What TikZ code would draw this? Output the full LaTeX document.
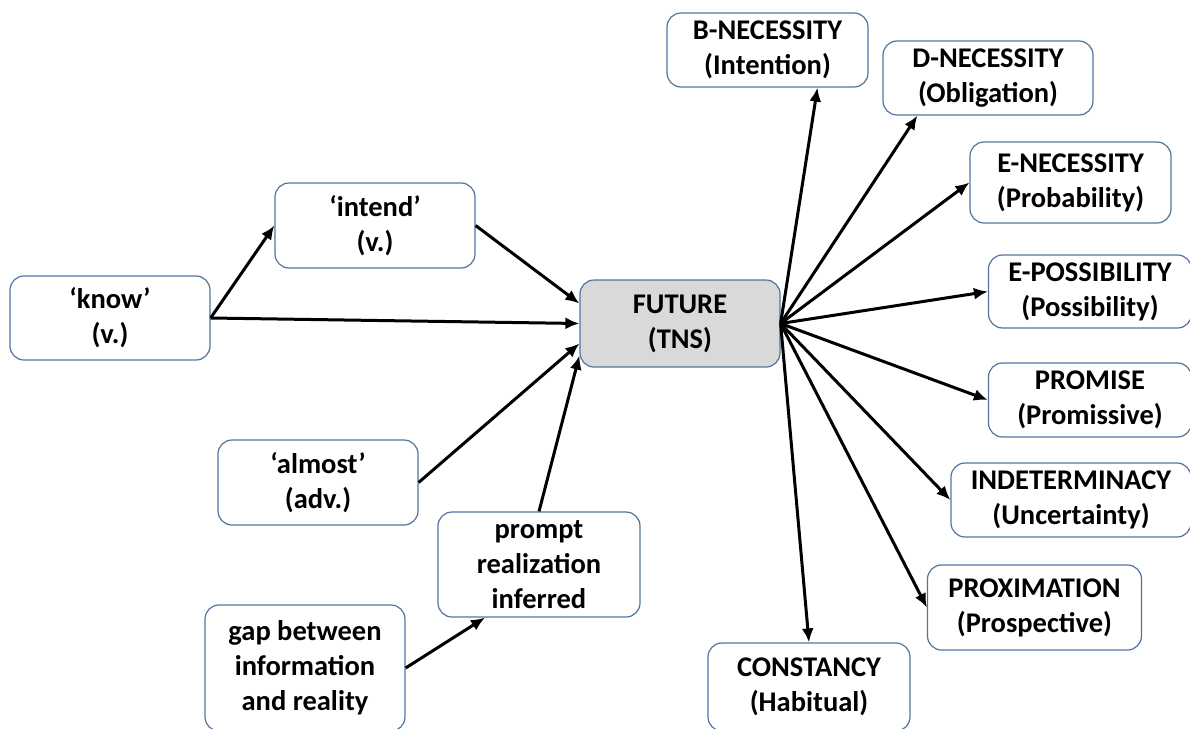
\documentclass[tikz,border=0pt]{standalone}
\usepackage{fontspec}
\setmainfont{Carlito}
\usetikzlibrary{arrows.meta}
\definecolor{boxline}{HTML}{52739E}
\definecolor{boxfill}{HTML}{D9D9D9}
\begin{document}
\begin{tikzpicture}[x=1pt,y=-1pt,
        box/.style={draw=boxline,line width=1.2pt,rounded corners=14pt,align=center,
            inner sep=0pt,font=\fontsize{28.5}{35}\selectfont\bfseries},
        arr/.style={-{Latex[length=14pt,width=12pt]},line width=3pt}]
        \useasboundingbox (0,0) rectangle (1190,728);
        \node(K)  [box,minimum width=200pt,minimum height=84pt] at (110,318) {‘know’\\(v.)};
        \node(I)  [box,minimum width=200pt,minimum height=85pt] at (375,225.5) {‘intend’\\(v.)};
        \node(F)  [box,fill=boxfill,minimum width=200pt,minimum height=87pt] at (680,323.5) {FUTURE\\(TNS)};
        \node(A)  [box,minimum width=200pt,minimum height=85pt] at (318,482.5) {‘almost’\\(adv.)};
        \node(P)  [box,minimum width=202pt,minimum height=105pt] at (539,564.5) {prompt\\realization\\inferred};
        \node(G)  [box,minimum width=200pt,minimum height=126pt] at (305,668) {gap between\\information\\and reality};
        \node(BN) [box,minimum width=201pt,minimum height=74pt] at (767.5,50) {B-NECESSITY\\(Intention)};
        \node(DN) [box,minimum width=210pt,minimum height=74pt] at (988,78) {D-NECESSITY\\(Obligation)};
        \node(EN) [box,minimum width=201pt,minimum height=81pt] at (1070.5,182.5) {E-NECESSITY\\(Probability)};
        \node(EP) [box,minimum width=203pt,minimum height=73pt] at (1090,291.5) {E-POSSIBILITY\\(Possibility)};
        \node(PR) [box,minimum width=203pt,minimum height=74pt] at (1090,400) {PROMISE\\(Promissive)};
        \node(IN) [box,minimum width=240pt,minimum height=74pt] at (1071,500) {INDETERMINACY\\(Uncertainty)};
        \node(PX) [box,minimum width=214pt,minimum height=85pt] at (1034.5,607.5) {PROXIMATION\\(Prospective)};
        \node(C)  [box,minimum width=202pt,minimum height=88pt] at (809,687) {CONSTANCY\\(Habitual)};
        \draw[arr] (K.east) -- (I.west);
        \draw[arr] (K.east) -- (F.west);
        \draw[arr] (I.east) -- ([yshift=20pt]F.west);
        \draw[arr] (A.east) -- ([yshift=-20pt]F.west);
        \draw[arr] (P.north) -- ([yshift=12pt]F.south west);
        \draw[arr] (G.east) -- ([xshift=-54pt]P.south);
        \draw[arr] (F.east) -- ([xshift=50pt]BN.south);
        \draw[arr] (F.east) -- ([xshift=35pt]DN.south west);
        \draw[arr] (F.east) -- (EN.west);
        \draw[arr] (F.east) -- (EP.west);
        \draw[arr] (F.east) -- (PR.west);
        \draw[arr] (F.east) -- (IN.west);
        \draw[arr] (F.east) -- (PX.west);
        \draw[arr] (F.east) -- (C.north);
    \end{tikzpicture}
\end{document}
